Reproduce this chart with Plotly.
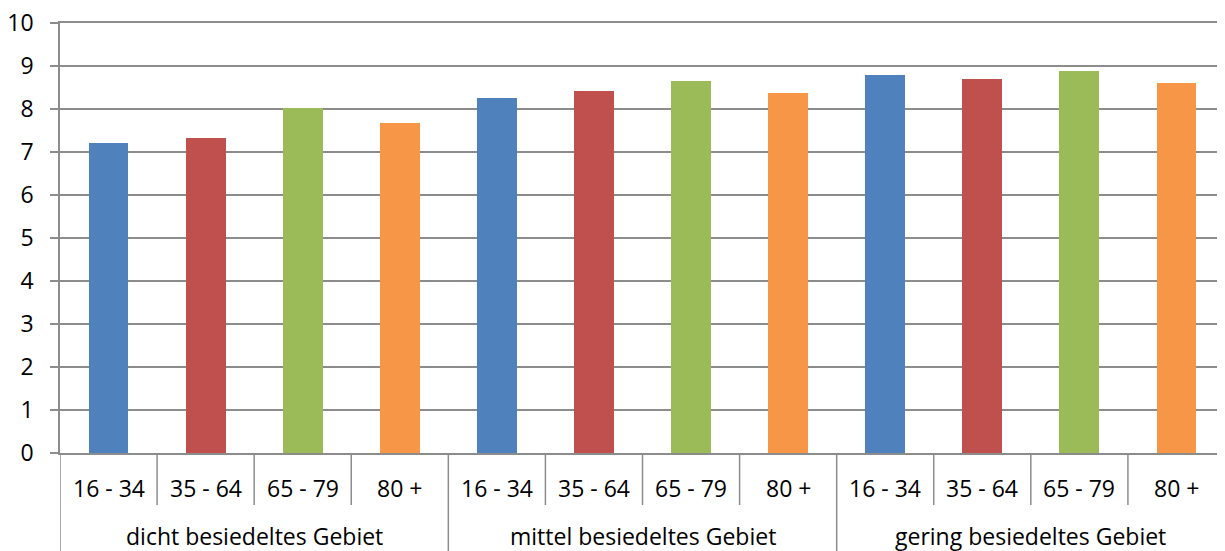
import plotly.graph_objects as go

groups = ["dicht besiedeltes Gebiet", "mittel besiedeltes Gebiet", "gering besiedeltes Gebiet"]
ages = ["16 - 34", "35 - 64", "65 - 79", "80 +"]
age_colors = ["#4F81BD", "#C0504D", "#9BBB59", "#F79646"]

# values per group, in age order
dicht = [7.2, 7.32, 8.02, 7.68]
mittel = [8.25, 8.42, 8.65, 8.37]
gering = [8.79, 8.7, 8.88, 8.6]
y_ticks = list(range(0, 11))

group_values = [dicht, mittel, gering]
n_age = len(ages)

xs, ys, cols = [], [], []
for g, vals in enumerate(group_values):
    for a, v in enumerate(vals):
        xs.append(g * n_age + a)
        ys.append(v)
        cols.append(age_colors[a])

GRID = "#8c8c8c"
FONT = dict(family="Open Sans", size=23, color="#000000")

fig = go.Figure()
fig.add_trace(go.Bar(x=xs, y=ys, marker=dict(color=cols, line=dict(width=0)),
                     width=0.41, showlegend=False, hoverinfo="y"))

shapes = []
annotations = []
n_total = len(xs)
for i in range(n_total + 1):
    is_group = (i % n_age == 0)
    shapes.append(dict(type="line", xref="x", yref="paper",
                       x0=i - 0.5, x1=i - 0.5, y0=0,
                       y1=-0.25 if is_group else -0.121,
                       line=dict(color=GRID, width=1.5)))
for i, x in enumerate(xs):
    annotations.append(dict(xref="x", yref="paper", x=x, y=-0.081,
                            text=ages[i % n_age], showarrow=False,
                            xanchor="center", yanchor="middle", font=FONT))
for g, name in enumerate(groups):
    annotations.append(dict(xref="x", yref="paper", x=g * n_age + (n_age - 1) / 2,
                            y=-0.192, text=name, showarrow=False,
                            xanchor="center", yanchor="middle", font=FONT))

# page body has an 8px margin, so the figure is 8px smaller than the window
fig.update_layout(
    template="none",
    width=1217, height=543,
    margin=dict(l=52, r=0, t=15, b=98),
    paper_bgcolor="white", plot_bgcolor="white",
    font=FONT,
    bargap=0,
    shapes=shapes,
    annotations=annotations,
    xaxis=dict(range=[-0.5, n_total - 0.5], showticklabels=False, showgrid=False,
               zeroline=False, showline=True, mirror=True, linecolor=GRID,
               linewidth=1.5, ticks="", automargin=False),
    yaxis=dict(range=[0, 10], tickvals=y_ticks, showgrid=True, gridcolor=GRID,
               gridwidth=1.5, zeroline=False, showline=True, linecolor=GRID,
               linewidth=1.5, ticks="outside", ticklen=8, tickcolor=GRID,
               tickwidth=1.5, ticklabelstandoff=12, tickfont=FONT,
               ticklabeloverflow="allow", automargin=False),
)

fig.write_html("out.html")
